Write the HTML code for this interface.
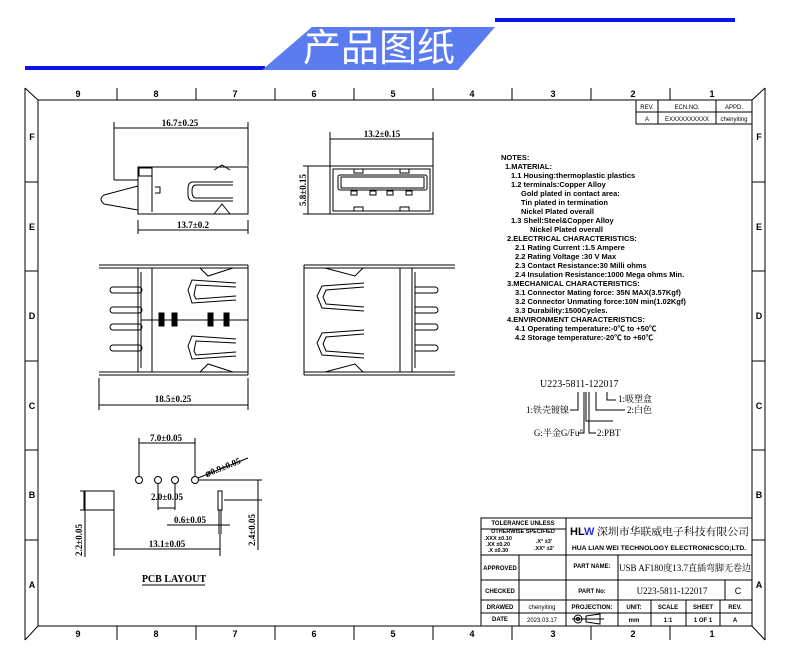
<!DOCTYPE html>
<html><head><meta charset="utf-8"><style>
html,body{margin:0;padding:0;background:#fff;}
svg{display:block}
text{font-family:"Liberation Sans","Noto Sans CJK SC",sans-serif;fill:#000}
text.s,.s text{font-family:"Liberation Serif","Noto Serif CJK SC",serif}
</style></head><body>
<svg width="790" height="663" viewBox="0 0 790 663" xmlns="http://www.w3.org/2000/svg">
<!-- banner -->
<rect x="495" y="18" width="240" height="4" fill="#0b16e6"/>
<rect x="25" y="66" width="240" height="4" fill="#0b16e6"/>
<polygon points="312,27 495,27 458,70 262,70" fill="#5b7bf0"/>
<text x="379" y="61" font-size="38" style="fill:#fff;font-family:'Noto Sans CJK SC',sans-serif" text-anchor="middle">产品图纸</text>

<g stroke="#000" fill="none" stroke-width="1">
<!-- frame -->
<rect x="38" y="100" width="714" height="526"/>
<line x1="25" y1="88" x2="38" y2="100"/><line x1="765" y1="88" x2="752" y2="100"/>
<line x1="25" y1="640" x2="38" y2="626"/><line x1="765" y1="640" x2="752" y2="626"/>
<line x1="25" y1="88" x2="25" y2="640"/><line x1="765" y1="88" x2="765" y2="640"/>
<line x1="117" y1="88" x2="117" y2="100"/><line x1="196" y1="88" x2="196" y2="100"/><line x1="275" y1="88" x2="275" y2="100"/><line x1="354" y1="88" x2="354" y2="100"/><line x1="433" y1="88" x2="433" y2="100"/><line x1="512" y1="88" x2="512" y2="100"/><line x1="591" y1="88" x2="591" y2="100"/><line x1="670" y1="88" x2="670" y2="100"/>
<line x1="117" y1="626" x2="117" y2="640"/><line x1="196" y1="626" x2="196" y2="640"/><line x1="275" y1="626" x2="275" y2="640"/><line x1="354" y1="626" x2="354" y2="640"/><line x1="433" y1="626" x2="433" y2="640"/><line x1="512" y1="626" x2="512" y2="640"/><line x1="591" y1="626" x2="591" y2="640"/><line x1="670" y1="626" x2="670" y2="640"/>
<line x1="25" y1="182" x2="38" y2="182"/><line x1="25" y1="271" x2="38" y2="271"/><line x1="25" y1="361" x2="38" y2="361"/><line x1="25" y1="450" x2="38" y2="450"/><line x1="25" y1="540" x2="38" y2="540"/>
<line x1="752" y1="182" x2="765" y2="182"/><line x1="752" y1="271" x2="765" y2="271"/><line x1="752" y1="361" x2="765" y2="361"/><line x1="752" y1="450" x2="765" y2="450"/><line x1="752" y1="540" x2="765" y2="540"/>
<!-- rev table -->
<rect x="636" y="100" width="116" height="24"/><line x1="636" y1="112" x2="752" y2="112"/><line x1="658" y1="100" x2="658" y2="124"/><line x1="716" y1="100" x2="716" y2="124"/>

<!-- side view -->
<line x1="114" y1="122" x2="114" y2="180"/><line x1="248" y1="122" x2="248" y2="166"/><line x1="114" y1="128" x2="248" y2="128"/>
<rect x="138" y="167" width="110" height="47"/>
<rect x="139" y="168" width="13" height="8"/>
<line x1="114" y1="180" x2="138" y2="180"/>
<path d="M138,186 L104,195 Q98,199 104,204 L138,210"/>
<line x1="152" y1="170" x2="152" y2="212"/>
<path d="M155,187 h5 v6 h-5"/>
<path d="M233,182 L193,182 Q188,182 188,189 L188,194 Q188,201 193,201 L233,201 M233,185 L196,185 Q192,185 192,191 Q192,198 196,198 L233,198"/>
<path d="M214,170 l8,-5 l8,5 M214,214 l8,-10 l8,10"/>
<line x1="138" y1="220" x2="138" y2="234"/><line x1="248" y1="220" x2="248" y2="234"/><line x1="138" y1="230" x2="248" y2="230"/>

<!-- front view -->
<line x1="330" y1="132" x2="330" y2="166"/><line x1="433" y1="132" x2="433" y2="166"/><line x1="330" y1="139" x2="433" y2="139"/>
<rect x="330" y="166" width="103" height="48"/>
<rect x="333" y="169" width="97" height="42"/>
<rect x="338" y="175" width="89" height="15" rx="2"/><rect x="341" y="177" width="83" height="11"/>
<rect x="351" y="191" width="6" height="4"/><rect x="370" y="191" width="6" height="4"/><rect x="387" y="191" width="6" height="4"/><rect x="406" y="191" width="6" height="4"/>
<rect x="354" y="169" width="9" height="4"/><rect x="400" y="169" width="9" height="4"/><rect x="354" y="207" width="9" height="4"/><rect x="400" y="207" width="9" height="4"/>
<line x1="303" y1="166" x2="330" y2="166"/><line x1="303" y1="214" x2="330" y2="214"/><line x1="308" y1="166" x2="308" y2="214"/>

<!-- bottom left view -->
<line x1="99" y1="265" x2="248" y2="265"/><line x1="99" y1="268" x2="248" y2="268"/>
<line x1="99" y1="372" x2="248" y2="372"/><line x1="99" y1="375" x2="248" y2="375"/>
<line x1="248" y1="265" x2="248" y2="375"/>
<line x1="138" y1="268" x2="138" y2="372"/><line x1="141" y1="272" x2="141" y2="368"/>
<line x1="152" y1="268" x2="152" y2="372"/>
<path d="M113,287 h26 a3,3 0 0 1 0,6 h-26 a3,3 0 0 1 0,-6 M113,307 h26 a3,3 0 0 1 0,6 h-26 a3,3 0 0 1 0,-6 M113,324 h26 a3,3 0 0 1 0,6 h-26 a3,3 0 0 1 0,-6 M113,345 h26 a3,3 0 0 1 0,6 h-26 a3,3 0 0 1 0,-6"/>
<line x1="141" y1="320" x2="248" y2="320"/>
<path d="M236,283 L192,280 L188,290 L192,303 L236,300 M236,287 L196,285 L194,295 L196,299 L236,296"/>
<path d="M236,339 L192,336 L188,346 L192,359 L236,356 M236,343 L196,341 L194,351 L196,355 L236,352"/>
<path d="M200,268 l8,8 l25,-8 M200,372 l8,-8 l25,8"/>
<g fill="#000"><rect x="159" y="313" width="5" height="13"/><rect x="172" y="313" width="5" height="13"/><rect x="208" y="313" width="5" height="13"/><rect x="224" y="313" width="5" height="13"/></g>
<line x1="99" y1="378" x2="99" y2="410"/><line x1="248" y1="378" x2="248" y2="410"/><line x1="99" y1="405" x2="248" y2="405"/>

<!-- bottom right view -->
<line x1="304" y1="265" x2="455" y2="265"/><line x1="304" y1="268" x2="455" y2="268"/>
<line x1="304" y1="372" x2="455" y2="372"/><line x1="304" y1="375" x2="455" y2="375"/>
<line x1="304" y1="265" x2="304" y2="375"/>
<line x1="400" y1="268" x2="400" y2="372"/><line x1="412" y1="268" x2="412" y2="372"/><line x1="415" y1="272" x2="415" y2="368"/>
<path d="M415,287 h20 a3,3 0 0 1 0,6 h-20 M415,307 h20 a3,3 0 0 1 0,6 h-20 M415,324 h20 a3,3 0 0 1 0,6 h-20 M415,345 h20 a3,3 0 0 1 0,6 h-20"/>
<path d="M364,283 L322,286 L317,296 L322,308 L364,311 M364,287 L326,290 L323,297 L326,304 L364,307"/>
<path d="M364,330 L322,333 L317,343 L322,355 L364,358 M364,334 L326,337 L323,344 L326,351 L364,354"/>
<path d="M325,268 l30,8 l8,-8 M325,372 l30,-8 l8,8"/>

<!-- PCB layout -->
<line x1="139" y1="443" x2="195" y2="443"/><line x1="139" y1="438" x2="139" y2="476"/><line x1="195" y1="438" x2="195" y2="476"/>
<circle cx="139" cy="480" r="3.5"/><circle cx="158" cy="480" r="3.5"/><circle cx="175" cy="480" r="3.5"/><circle cx="195" cy="480" r="3.5"/>
<line x1="198" y1="478" x2="248" y2="458"/>
<line x1="158" y1="484" x2="158" y2="510"/><line x1="175" y1="484" x2="175" y2="510"/><line x1="158" y1="508" x2="175" y2="508"/>
<rect x="84" y="491" width="30" height="19"/>
<rect x="218" y="491" width="4" height="19"/><line x1="219" y1="510" x2="219" y2="534"/><line x1="221" y1="510" x2="221" y2="534"/>
<line x1="167" y1="525" x2="230" y2="525"/>
<line x1="114" y1="510" x2="114" y2="556"/><line x1="220" y1="534" x2="220" y2="556"/><line x1="114" y1="549" x2="220" y2="549"/>
<line x1="80" y1="491" x2="84" y2="491"/><line x1="85" y1="491" x2="85" y2="557"/><line x1="80" y1="510" x2="84" y2="510"/>
<line x1="198" y1="480" x2="262" y2="480"/><line x1="224" y1="500" x2="262" y2="500"/><line x1="258" y1="480" x2="258" y2="550"/>
<line x1="142" y1="585" x2="205" y2="585"/>

<!-- part number leaders -->
<path d="M607,392 V400 H616 M596,392 V410 H625 M586,392 V421 H613 M578,392 V410 H570 M589,392 V433 H596 M584,392 V433 H578"/>

<!-- title block -->
<rect x="481" y="518" width="271" height="108"/>
<line x1="566" y1="518" x2="566" y2="626"/>
<line x1="481" y1="529" x2="566" y2="529"/>
<line x1="481" y1="555" x2="752" y2="555"/>
<line x1="481" y1="580" x2="752" y2="580"/>
<line x1="481" y1="600" x2="752" y2="600"/>
<line x1="481" y1="613" x2="752" y2="613"/>
<line x1="519" y1="555" x2="519" y2="626"/>
<line x1="618" y1="555" x2="618" y2="626"/>
<line x1="725" y1="580" x2="725" y2="600"/>
<line x1="651" y1="600" x2="651" y2="626"/><line x1="686" y1="600" x2="686" y2="626"/><line x1="720" y1="600" x2="720" y2="626"/>
<circle cx="578" cy="619" r="4"/><circle cx="578" cy="619" r="1.5"/><line x1="572" y1="619" x2="584" y2="619"/>
<path d="M586,616 L600,614 V624 L586,622 Z"/><line x1="584" y1="619" x2="604" y2="619"/>
</g>

<!-- frame labels -->
<g font-size="9" font-weight="bold" text-anchor="middle">
<text x="78" y="97">9</text><text x="156" y="97">8</text><text x="235" y="97">7</text><text x="314" y="97">6</text><text x="393" y="97">5</text><text x="472" y="97">4</text><text x="553" y="97">3</text><text x="633" y="97">2</text><text x="712" y="97">1</text>
<text x="78" y="637">9</text><text x="156" y="637">8</text><text x="235" y="637">7</text><text x="314" y="637">6</text><text x="393" y="637">5</text><text x="472" y="637">4</text><text x="553" y="637">3</text><text x="633" y="637">2</text><text x="712" y="637">1</text>
<text x="32" y="140">F</text><text x="32" y="230">E</text><text x="32" y="319">D</text><text x="32" y="409">C</text><text x="32" y="498">B</text><text x="32" y="588">A</text>
<text x="759" y="140">F</text><text x="759" y="230">E</text><text x="759" y="319">D</text><text x="759" y="409">C</text><text x="759" y="498">B</text><text x="759" y="588">A</text>
</g>
<g font-size="6" text-anchor="middle">
<text x="647" y="109">REV.</text><text x="687" y="109">ECN.NO.</text><text x="734" y="109">APPD.</text>
<text x="647" y="121">A</text><text x="687" y="121">EXXXXXXXXXX</text><text x="734" y="121">chenyiting</text>
</g>

<!-- dims text -->
<g class="s" font-size="9" font-weight="bold" text-anchor="middle">
<text x="180" y="126">16.7±0.25</text>
<text x="193" y="228">13.7±0.2</text>
<text x="382" y="137">13.2±0.15</text>
<text x="306" y="190" transform="rotate(-90 306 190)">5.8±0.15</text>
<text x="173" y="402">18.5±0.25</text>
<text x="166" y="441">7.0±0.05</text>
<text x="167" y="500">2.0±0.05</text>
<text x="190" y="523">0.6±0.05</text>
<text x="167" y="547">13.1±0.05</text>
<text x="224" y="470" transform="rotate(-22 224 470)">⌀0.9±0.05</text>
<text x="82" y="540" transform="rotate(-90 82 540)">2.2±0.05</text>
<text x="255" y="530" transform="rotate(-90 255 530)">2.4±0.05</text>
<text x="174" y="582" font-size="10">PCB LAYOUT</text>
</g>

<!-- notes -->
<g font-size="7.5" font-weight="bold">
<text x="501" y="160">NOTES:</text>
<text x="505" y="169">1.MATERIAL:</text>
<text x="511" y="178">1.1 Housing:thermoplastic plastics</text>
<text x="511" y="187">1.2 terminals:Copper Alloy</text>
<text x="521" y="196">Gold plated in contact area:</text>
<text x="521" y="205">Tin plated in termination</text>
<text x="521" y="214">Nickel Plated overall</text>
<text x="511" y="223">1.3 Shell:Steel&amp;Copper Alloy</text>
<text x="530" y="232">Nickel Plated overall</text>
<text x="507" y="241">2.ELECTRICAL CHARACTERISTICS:</text>
<text x="515" y="250">2.1 Rating Current :1.5 Ampere</text>
<text x="515" y="259">2.2 Rating Voltage :30 V Max</text>
<text x="515" y="268">2.3 Contact Resistance:30 Milli ohms</text>
<text x="515" y="277">2.4 Insulation Resistance:1000 Mega ohms Min.</text>
<text x="507" y="286">3.MECHANICAL CHARACTERISTICS:</text>
<text x="515" y="295">3.1 Connector Mating force: 35N MAX(3.57Kgf)</text>
<text x="515" y="304">3.2 Connector Unmating force:10N min(1.02Kgf)</text>
<text x="515" y="313">3.3 Durability:1500Cycles.</text>
<text x="507" y="322">4.ENVIRONMENT CHARACTERISTICS:</text>
<text x="515" y="331">4.1 Operating temperature:-0℃ to +50℃</text>
<text x="515" y="340">4.2 Storage temperature:-20℃ to +60℃</text>
</g>

<!-- part number -->
<g class="s" font-size="9">
<text x="540" y="387" font-size="10">U223-5811-122017</text>
<text x="618" y="402">1:吸塑盒</text>
<text x="627" y="413">2:白色</text>
<text x="569" y="413" text-anchor="end">1:铁壳镀镍</text>
<text x="597" y="436">2:PBT</text>
<text x="583" y="436" text-anchor="end">G:半金G/Fu"</text>
</g>

<!-- title block text -->
<g font-size="6" font-weight="bold" text-anchor="middle">
<text x="523" y="525">TOLERANCE UNLESS</text>
<text x="523" y="533" font-size="5.5">OTHERWISE SPECIFIED</text>
<text x="498" y="540" font-size="5.5">.XXX ±0.10</text>
<text x="498" y="546" font-size="5.5">.XX ±0.20</text>
<text x="498" y="552" font-size="5.5">.X ±0.30</text>
<text x="544" y="543" font-size="5.5">.X° ±3'</text>
<text x="544" y="550" font-size="5.5">.XX° ±2'</text>
<text x="500" y="570">APPROVED</text>
<text x="500" y="593">CHECKED</text>
<text x="500" y="609">DRAWED</text>
<text x="542" y="609" font-weight="normal">chenyiting</text>
<text x="500" y="621">DATE</text>
<text x="542" y="622" font-weight="normal">2023.03.17</text>
<text x="592" y="568">PART NAME:</text>
<text x="592" y="593">PART No:</text>
<text x="592" y="609">PROJECTION:</text>
<text x="634" y="609">UNIT:</text><text x="668" y="609">SCALE</text><text x="703" y="609">SHEET</text><text x="735" y="609">REV.</text>
<text x="634" y="622">mm</text><text x="668" y="622">1:1</text><text x="703" y="622">1 OF 1</text><text x="735" y="622">A</text>
<text x="738" y="594" font-size="9" font-weight="normal">C</text>
<text x="659" y="550" font-size="6.8">HUA LIAN WEI TECHNOLOGY ELECTRONICSCO;LTD.</text>
</g>
<text x="570" y="535" font-size="11" font-weight="bold">HL</text><text x="584" y="535" font-size="11" font-weight="bold" style="fill:#2233dd">W</text>
<text x="597" y="535" font-size="10.5" class="s" textLength="152" lengthAdjust="spacingAndGlyphs">深圳市华联威电子科技有限公司</text>
<text x="685" y="571" font-size="9" class="s" text-anchor="middle">USB AF180度13.7直插弯脚无卷边</text>
<text x="672" y="594" font-size="9" class="s" text-anchor="middle">U223-5811-122017</text>
</svg>
</body></html>
